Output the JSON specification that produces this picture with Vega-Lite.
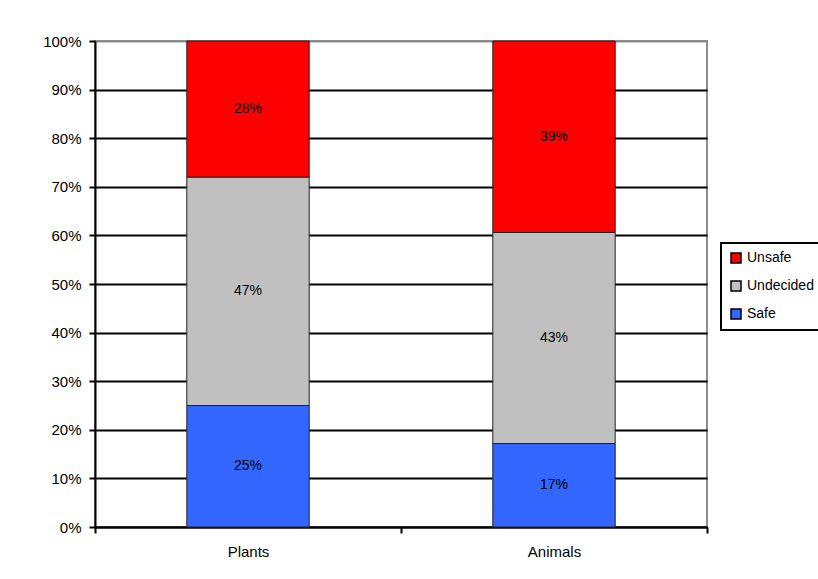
{
  "$schema": "https://vega.github.io/schema/vega-lite/v6.json",
  "width": 612,
  "height": 486,
  "autosize": {"type": "none"},
  "padding": {"left": 95, "top": 41, "right": 111, "bottom": 52},
  "background": "white",
  "config": {
    "font": "Liberation Sans",
    "view": {"stroke": "#8c8c8c", "strokeWidth": 2}
  },
  "data": {
    "values": [
      {"group": "Plants", "category": "Safe", "rank": 1, "value": 25},
      {"group": "Plants", "category": "Undecided", "rank": 2, "value": 47},
      {"group": "Plants", "category": "Unsafe", "rank": 3, "value": 28},
      {"group": "Animals", "category": "Safe", "rank": 1, "value": 17},
      {"group": "Animals", "category": "Undecided", "rank": 2, "value": 43},
      {"group": "Animals", "category": "Unsafe", "rank": 3, "value": 39}
    ]
  },
  "transform": [
    {"stack": "value", "groupby": ["group"], "sort": [{"field": "rank", "order": "ascending"}], "offset": "normalize", "as": ["y0", "y1"]},
    {"calculate": "(datum.y0 + datum.y1) / 2", "as": "mid"},
    {"calculate": "datum.value + '%'", "as": "label"}
  ],
  "encoding": {
    "x": {
      "field": "group",
      "type": "nominal",
      "sort": ["Plants", "Animals"],
      "scale": {"paddingInner": 0, "paddingOuter": 0},
      "axis": {
        "title": null,
        "labelAngle": 0,
        "labelFontSize": 15,
        "labelColor": "black",
        "labelPadding": 11,
        "tickBand": "extent",
        "tickSize": 6,
        "tickWidth": 2,
        "tickColor": "black",
        "domainColor": "black",
        "domainWidth": 2,
        "grid": false
      }
    }
  },
  "layer": [
    {
      "mark": {"type": "bar", "stroke": "#222222", "strokeWidth": 1, "width": {"band": 0.4}},
      "encoding": {
        "y": {
          "field": "y1",
          "type": "quantitative",
          "scale": {"domain": [0, 1], "nice": false},
          "axis": {
            "title": null,
            "format": ".0%",
            "values": [0, 0.1, 0.2, 0.3, 0.4, 0.5, 0.6, 0.7, 0.8, 0.9, 1],
            "labelFontSize": 15,
            "labelColor": "black",
            "labelPadding": 8,
            "tickSize": 6,
            "tickWidth": 2,
            "tickColor": "black",
            "domainColor": "black",
            "domainWidth": 2,
            "grid": true,
            "gridColor": {"condition": {"test": "datum.value >= 1", "value": "#8c8c8c"}, "value": "black"},
            "gridWidth": 2,
            "gridOpacity": 1
          }
        },
        "y2": {"field": "y0"},
        "color": {
          "field": "category",
          "type": "nominal",
          "scale": {"domain": ["Unsafe", "Undecided", "Safe"], "range": ["#ff0000", "#c0c0c0", "#3366ff"]},
          "legend": {
            "title": null,
            "orient": "none",
            "legendX": 626,
            "legendY": 202,
            "labelFontSize": 14,
            "labelColor": "black",
            "symbolType": "square",
            "symbolSize": 100,
            "symbolStrokeColor": "black",
            "symbolStrokeWidth": 1.5,
            "symbolOpacity": 1,
            "rowPadding": 12,
            "labelOffset": 4,
            "padding": 8,
            "strokeColor": "black",
            "fillColor": "white",
            "encode": {"legend": {"update": {"strokeWidth": {"value": 2}}}}
          }
        },
        "order": {"field": "rank", "type": "quantitative"}
      }
    },
    {
      "mark": {"type": "text", "fontSize": 14, "color": "black", "baseline": "middle", "align": "center"},
      "encoding": {
        "y": {"field": "mid", "type": "quantitative"},
        "text": {"field": "label", "type": "nominal"}
      }
    }
  ]
}
